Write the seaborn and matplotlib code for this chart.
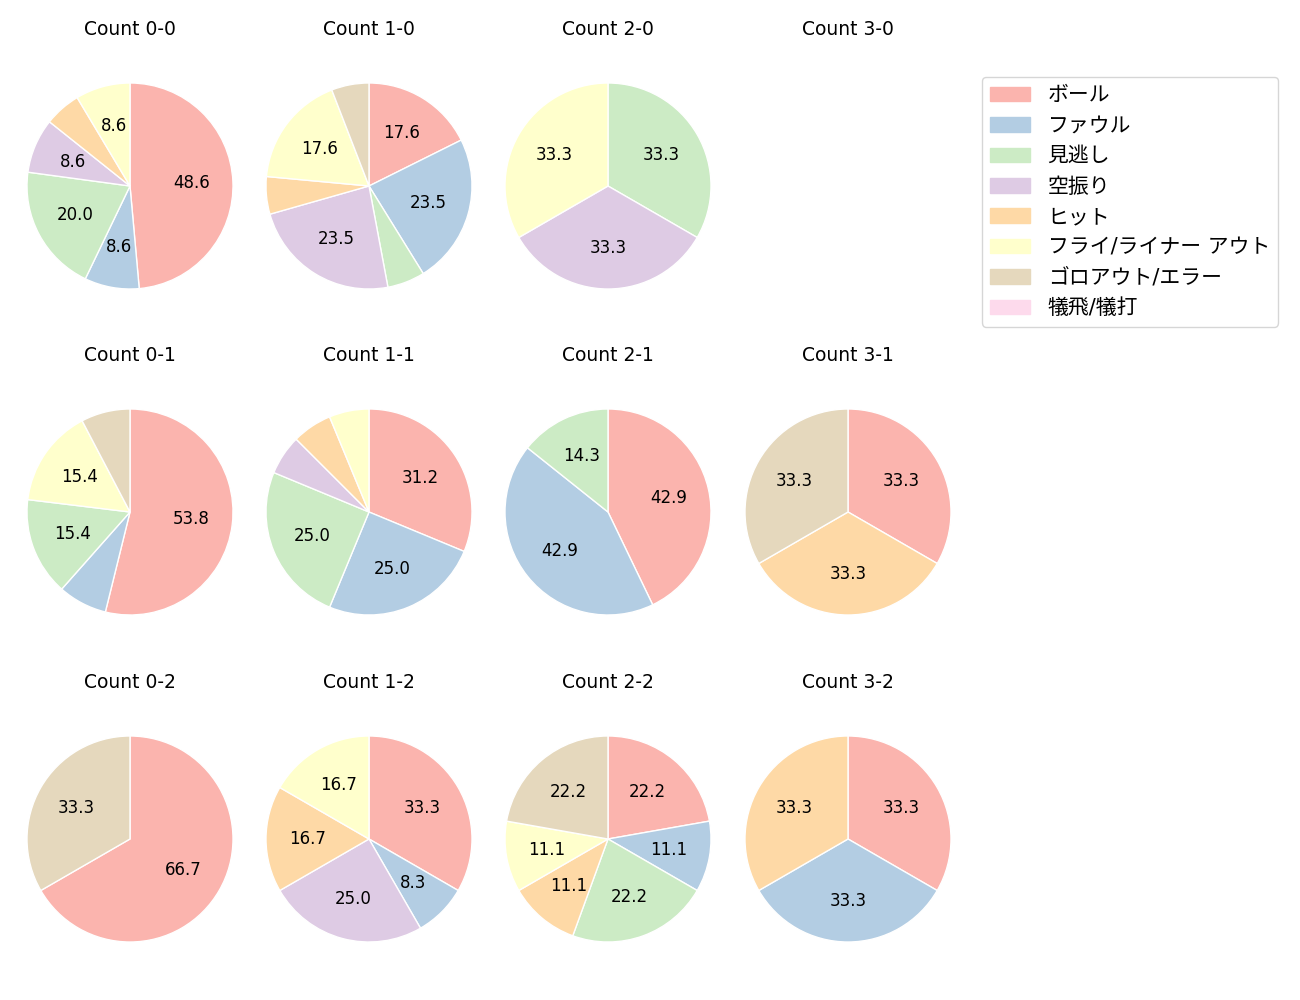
import matplotlib
matplotlib.use("Agg")
import matplotlib.pyplot as plt
import seaborn as sns

sns.set_theme(style="white")
plt.rcParams['font.family'] = ['DejaVu Sans', 'Noto Sans CJK JP']
plt.rcParams['text.color'] = 'black'

# result categories (legend order)
labels = ["ボール", "ファウル", "見逃し", "空振り", "ヒット",
          "フライ/ライナー アウト", "ゴロアウト/エラー", "犠飛/犠打"]

# pitch counts per ball-strike state, in legend order
c00 = [17, 3, 7, 3, 2, 3, 0, 0]
c10 = [3, 4, 1, 4, 1, 3, 1, 0]
c20 = [0, 0, 1, 1, 0, 1, 0, 0]
c30 = [0, 0, 0, 0, 0, 0, 0, 0]
c01 = [7, 1, 2, 0, 0, 2, 1, 0]
c11 = [5, 4, 4, 1, 1, 1, 0, 0]
c21 = [3, 3, 1, 0, 0, 0, 0, 0]
c31 = [1, 0, 0, 0, 1, 0, 1, 0]
c02 = [2, 0, 0, 0, 0, 0, 1, 0]
c12 = [4, 1, 0, 3, 2, 2, 0, 0]
c22 = [2, 1, 2, 0, 1, 1, 2, 0]
c32 = [1, 1, 0, 0, 1, 0, 0, 0]

titles = [["Count 0-0", "Count 1-0", "Count 2-0", "Count 3-0"],
          ["Count 0-1", "Count 1-1", "Count 2-1", "Count 3-1"],
          ["Count 0-2", "Count 1-2", "Count 2-2", "Count 3-2"]]
grid = [[c00, c10, c20, c30],
        [c01, c11, c21, c31],
        [c02, c12, c22, c32]]

colors = sns.color_palette("Pastel1", 9)[:8]

W, H = 1300, 1000
fig = plt.figure(figsize=(13, 10), dpi=100)

centers_x = [130, 369, 608, 848]
centers_y = [186, 512, 839]
radius = 103
size = 2.5 * radius

def pct(p):
    return "{:.1f}".format(p) if p > 8 else ""

for i, cy in enumerate(centers_y):
    for j, cx in enumerate(centers_x):
        ax = fig.add_axes([(cx - size / 2) / W, 1 - (cy + size / 2) / H, size / W, size / H])
        vals = grid[i][j]
        ax.set_title(titles[i][j], fontsize=13.5, pad=16)
        if sum(vals) == 0:
            ax.axis("off")
            continue
        idx = [k for k, v in enumerate(vals) if v > 0]
        ax.pie([vals[k] for k in idx], colors=[colors[k] for k in idx],
               startangle=90, counterclock=False, autopct=pct,
               textprops={'fontsize': 12, 'color': 'black'})
        ax.set_aspect("equal")

patches = [plt.Rectangle((0, 0), 1, 1, color=c) for c in colors]
fig.legend(patches, labels, loc="upper left", bbox_to_anchor=(982 / W, 1 - 77 / H),
           borderaxespad=0, fontsize=15, handlelength=1.9, handletextpad=0.85,
           labelspacing=0.5, frameon=True)

fig.savefig("out.png", dpi=100)
